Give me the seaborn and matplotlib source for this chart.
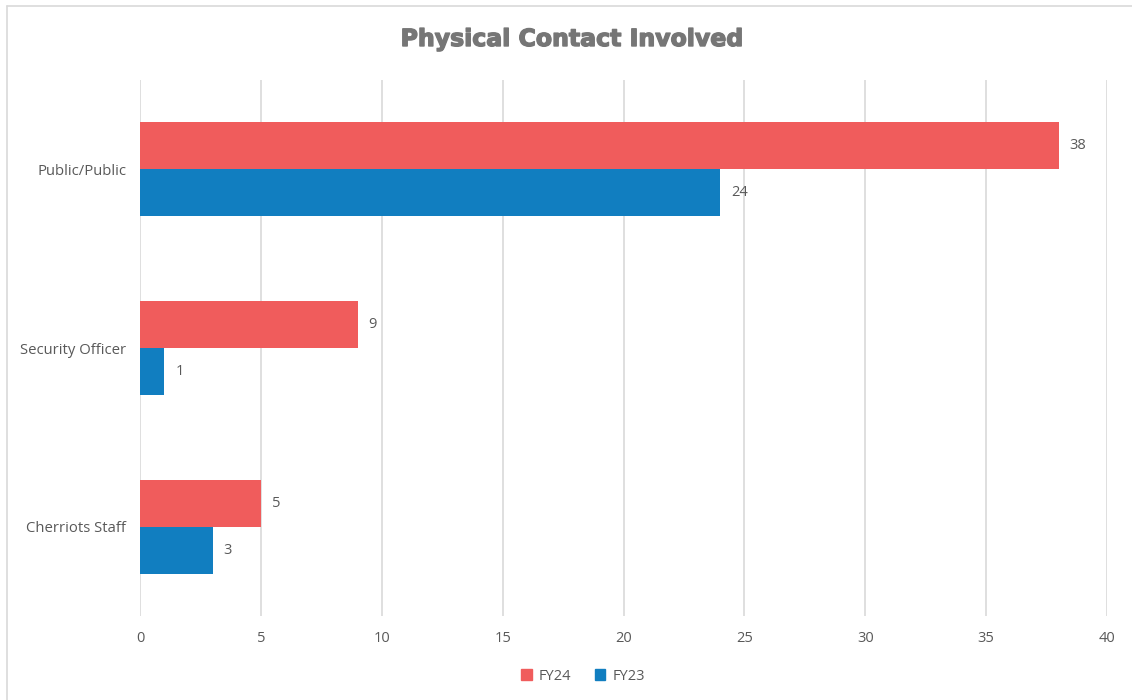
import matplotlib
matplotlib.use("Agg")
import matplotlib.pyplot as plt
import matplotlib.lines as mlines
import matplotlib.patches as mpatches
import matplotlib.patheffects as pe
import seaborn as sns
import pandas as pd

categories = ["Public/Public", "Security Officer", "Cherriots Staff"]
fy24 = [38, 9, 5]
fy23 = [24, 1, 3]
series_names = ["FY24", "FY23"]
x_ticks = [0, 5, 10, 15, 20, 25, 30, 35, 40]

colors = {"FY24": "#F05C5C", "FY23": "#117EC0"}
text_color = "#595959"
grid_color = "#D9D9D9"
title_color = "#767676"

df = pd.DataFrame({
    "category": categories * 2,
    "value": fy24 + fy23,
    "series": [series_names[0]] * len(categories) + [series_names[1]] * len(categories),
})

sns.set_theme(style="white")
plt.rcParams["font.family"] = ["Open Sans", "DejaVu Sans"]

fig = plt.figure(figsize=(11.32, 7.0), dpi=100)
ax = fig.add_axes([140 / 1132, 1 - 616 / 700, (1107 - 140) / 1132, (616 - 80) / 700])

sns.barplot(data=df, x="value", y="category", hue="series", order=categories,
            hue_order=series_names, palette=colors, orient="h", width=0.526,
            saturation=1, ax=ax, legend=False, linewidth=0)

ax.set_xlim(0, 40)
ax.set_ylim(2.5, -0.5)
ax.set_xticks(x_ticks)
ax.set_xticklabels([str(t) for t in x_ticks])
ax.set_xlabel("")
ax.set_ylabel("")
for s in ax.spines.values():
    s.set_visible(False)
ax.grid(False)
for t in x_ticks:
    ax.axvline(t, color=grid_color, linewidth=1.2, zorder=0)
ax.set_axisbelow(True)

ax.tick_params(axis="x", length=0, pad=11, labelsize=10.5, labelcolor=text_color)
ax.tick_params(axis="y", length=0, pad=10, labelsize=10.7, labelcolor=text_color)

for container in ax.containers:
    ax.bar_label(container, labels=[f"{v:g}" for v in container.datavalues],
                 padding=8, fontsize=10.5, color=text_color)

# Title, thickened slightly with a stroke of the same colour
fig.text(572 / 1132, 1 - 39 / 700, "Physical Contact Involved", ha="center", va="center",
         fontsize=17, fontweight="bold", color=title_color, family=["DejaVu Sans"],
         path_effects=[pe.withStroke(linewidth=1.0, foreground=title_color)])

# Legend
handles = [mpatches.Patch(color=colors[s], label=s) for s in series_names]
fig.legend(handles=handles, loc="center", bbox_to_anchor=(583 / 1132, 1 - 676 / 700),
           ncol=2, frameon=False, fontsize=10.5, handlelength=0.7, handleheight=0.7,
           handletextpad=0.5, columnspacing=1.6, labelcolor=text_color)

# Chart border (left and top edges)
fig.add_artist(mlines.Line2D([7 / 1132, 7 / 1132], [0, 1 - 6 / 700], color=grid_color,
                             linewidth=1.2, transform=fig.transFigure))
fig.add_artist(mlines.Line2D([7 / 1132, 1], [1 - 6 / 700, 1 - 6 / 700], color=grid_color,
                             linewidth=1.2, transform=fig.transFigure))

fig.savefig("out.png", dpi=100, facecolor="white")
